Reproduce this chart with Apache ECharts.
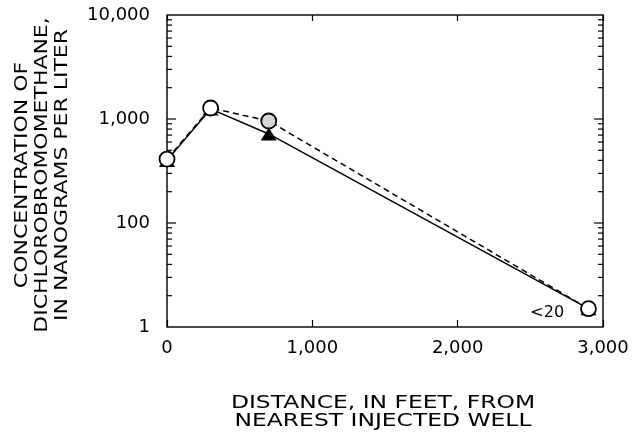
<!DOCTYPE html>
<html><head><meta charset="utf-8">
<script src="https://cdn.jsdelivr.net/npm/echarts@6/dist/echarts.min.js"></script>
<style>html,body{margin:0;padding:0;background:#fff}#c{width:636px;height:441px}</style>
</head><body><div id="c"></div>
<script>
const distance = [0, 300, 700, 2900];
const solidValues = [400, 1250, 718, 15];
const dashedValues = [412, 1276, 957, 15];
const xTicks = [0, 1000, 2000, 3000];
const xTickLabels = ['0', '1,000', '2,000', '3,000'];
const yTicks = [10, 100, 1000, 10000];
const yTickLabels = ['1', '100', '1,000', '10,000'];
const minorMultipliers = [2, 3, 4, 5, 6, 7, 8, 9];
const decades = [10, 100, 1000];
const lastLabel = '<20';
const yTitle = 'CONCENTRATION OF\nDICHLOROBROMOMETHANE,\nIN NANOGRAMS PER LITER';
const xTitle = 'DISTANCE, IN FEET, FROM\nNEAREST INJECTED WELL';

const FONT = '"DejaVu Sans", sans-serif';
const tickData = [];
[0, 3000].forEach(side => {
  decades.forEach(d => {
    minorMultipliers.forEach(m => tickData.push([side, d * m, 0]));
  });
  [100, 1000].forEach(v => tickData.push([side, v, 1]));
});

const chart = echarts.init(document.getElementById('c'), null, {renderer: 'canvas'});
const fmtY = v => { const i = yTicks.findIndex(t => Math.abs(t - v) / t < 1e-6); return i >= 0 ? yTickLabels[i] : ''; };
const fmtX = v => { const i = xTicks.indexOf(Math.round(v)); return i >= 0 ? xTickLabels[i] : ''; };

chart.setOption({
  animation: false,
  backgroundColor: '#fff',
  grid: {left: 167, right: 33, top: 15, bottom: 114, show: true, borderColor: '#111', borderWidth: 1.5, backgroundColor: 'transparent'},
  xAxis: [
    {type: 'value', min: 0, max: 3000, interval: 1000, position: 'bottom',
     axisLine: {show: false}, splitLine: {show: false},
     axisTick: {show: true, inside: true, length: 7, lineStyle: {color: '#000', width: 1.2}},
     axisLabel: {formatter: fmtX, color: '#000', fontFamily: FONT, fontSize: 18, margin: 12}},
    {type: 'value', min: 0, max: 3000, interval: 1000, position: 'top',
     axisLine: {show: false}, splitLine: {show: false},
     axisTick: {show: true, inside: true, length: 6, lineStyle: {color: '#000', width: 1.2}},
     axisLabel: {show: false}}
  ],
  yAxis: {type: 'log', logBase: 10, min: 10, max: 10000,
    axisLine: {show: false}, splitLine: {show: false}, axisTick: {show: false}, minorTick: {show: false},
    axisLabel: {formatter: fmtY, color: '#000', fontFamily: FONT, fontSize: 18, margin: 17}},
  graphic: [
    {type: 'text', x: 42, y: 175, rotation: Math.PI / 2, scaleX: 1.22,
     style: {text: yTitle, font: '18px ' + FONT, fill: '#000', align: 'center', verticalAlign: 'middle', lineHeight: 20}},
    {type: 'text', x: 383, y: 412.5, scaleX: 1.3,
     style: {text: xTitle, font: '18px ' + FONT, fill: '#000', align: 'center', verticalAlign: 'middle', lineHeight: 18}}
  ],
  series: [
    {type: 'custom', coordinateSystem: 'cartesian2d', silent: true, clip: false, z: 1,
     data: tickData, encode: {x: 0, y: 1},
     renderItem: function (params, api) {
       const side = api.value(0), v = api.value(1), major = api.value(2);
       const p = api.coord([side, v]);
       const len = major ? 9 : 5, dir = side === 0 ? 1 : -1;
       return {type: 'line', shape: {x1: p[0], y1: p[1], x2: p[0] + dir * len, y2: p[1]},
               style: {stroke: '#000', lineWidth: 1.2}};
     }},
    {type: 'line', z: 3, data: distance.map((d, i) => [d, solidValues[i]]),
     symbol: 'triangle', symbolSize: [16, 13], showSymbol: true,
     itemStyle: {color: '#000'}, lineStyle: {color: '#000', width: 1.5}},
    {type: 'line', z: 4, data: distance.map((d, i) => {
        const item = {value: [d, dashedValues[i]]};
        if (i === 2) item.itemStyle = {color: '#d6d6d6'};
        if (i === distance.length - 1) item.label = {show: true, formatter: lastLabel, position: 'left', distance: 16, offset: [0, 4],
          color: '#000', fontFamily: FONT, fontSize: 16};
        return item;
      }),
     symbol: 'circle', symbolSize: 15, showSymbol: true,
     itemStyle: {color: '#fff', borderColor: '#000', borderWidth: 1.8},
     lineStyle: {color: '#000', width: 1.5, type: [6, 4]}}
  ]
});
</script></body></html>
